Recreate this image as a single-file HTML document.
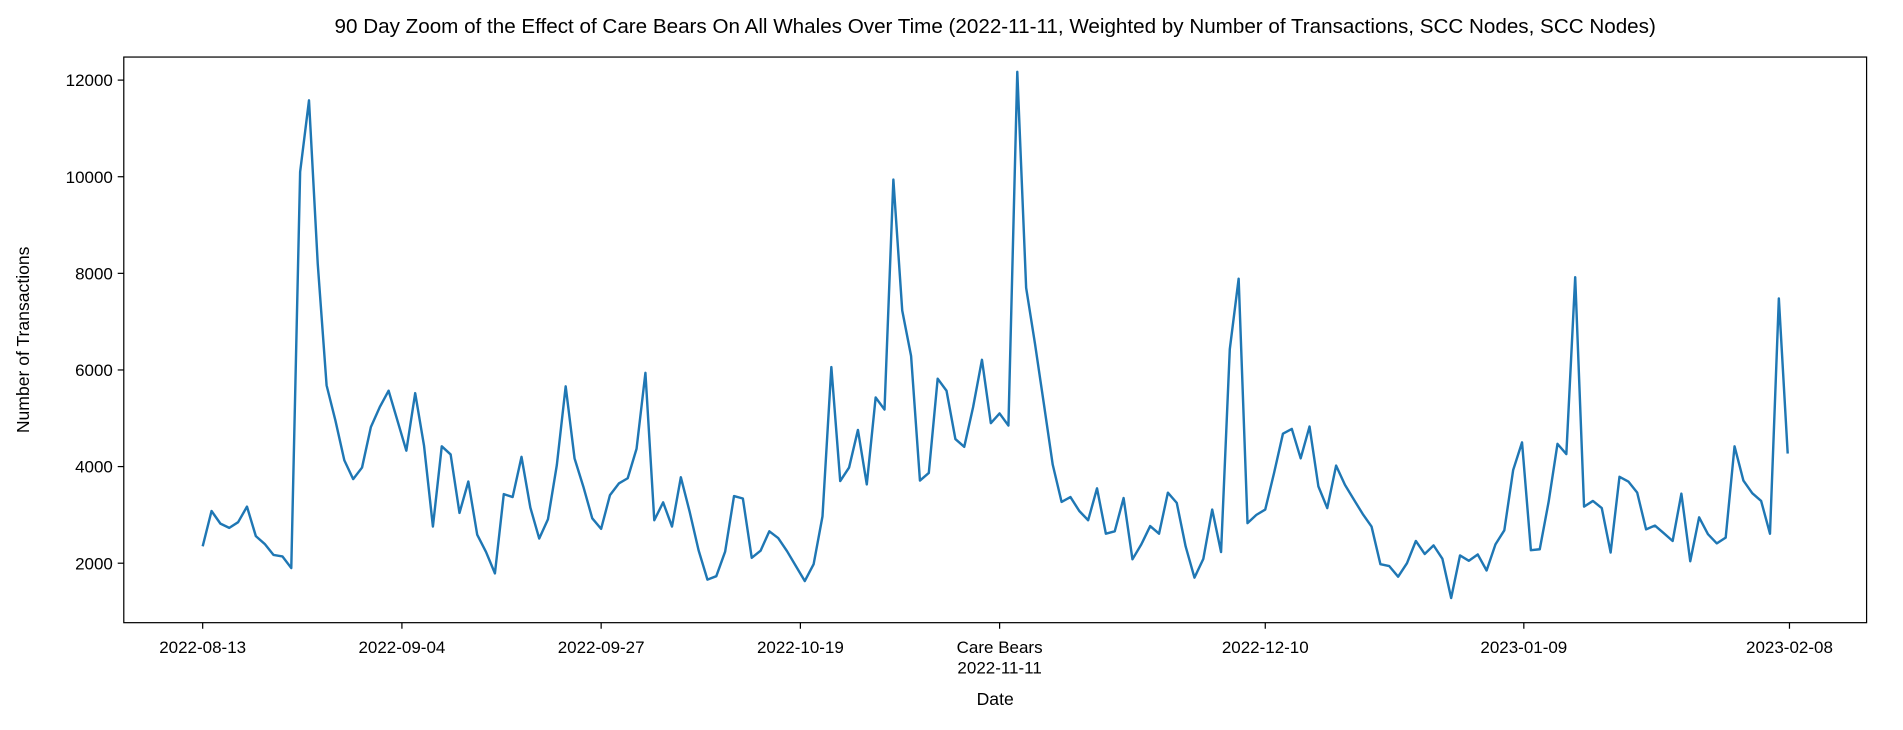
<!DOCTYPE html>
<html><head><meta charset="utf-8"><style>
body{margin:0;background:#fff;overflow:hidden;}
svg text{font-family:"Liberation Sans","DejaVu Sans",sans-serif;fill:#000;}
</style></head><body>
<svg width="1903" height="725" viewBox="0 0 1568 597.3" preserveAspectRatio="none" xmlns="http://www.w3.org/2000/svg" id="chart">
<text x="820" y="27" font-size="17" text-anchor="middle">90 Day Zoom of the Effect of Care Bears On All Whales Over Time (2022-11-11, Weighted by Number of Transactions, SCC Nodes, SCC Nodes)</text>
<text transform="translate(24,280) rotate(-90)" font-size="14.5" text-anchor="middle">Number of Transactions</text>
<text x="820" y="581" font-size="14.5" text-anchor="middle">Date</text>
<g id="axes"></g>
<rect x="102" y="47" width="1436" height="466" fill="none" stroke="#000" stroke-width="1"/>
</svg>
<script>
const values=[2350,3080,2820,2730,2850,3170,2560,2400,2170,2140,1900,10100,11580,8200,5680,4950,4130,3740,3980,4820,5230,5570,4950,4330,5520,4430,2760,4420,4250,3040,3690,2590,2230,1790,3430,3370,4200,3150,2510,2910,4030,5660,4170,3580,2930,2710,3410,3650,3760,4370,5940,2890,3260,2760,3780,3060,2270,1660,1730,2240,3390,3340,2110,2260,2660,2520,2250,1940,1630,1980,2970,6060,3700,3980,4760,3630,5430,5180,9940,7230,6290,3710,3870,5820,5570,4570,4410,5230,6210,4900,5100,4850,12170,7700,6540,5300,4040,3270,3370,3080,2890,3550,2610,2660,3350,2080,2390,2770,2610,3460,3250,2350,1700,2090,3110,2230,6430,7890,2830,3000,3110,3870,4680,4780,4170,4830,3590,3140,4020,3620,3320,3020,2760,1980,1940,1720,2000,2460,2190,2370,2090,1280,2160,2050,2180,1850,2390,2680,3930,4500,2270,2290,3270,4470,4260,7920,3170,3290,3140,2220,3790,3690,3460,2700,2780,2620,2460,3440,2040,2950,2600,2410,2530,4420,3710,3450,3290,2610,7480,4270];
const yTicks=[2000,4000,6000,8000,10000,12000];
const xTickLabels=["2022-08-13","2022-09-04","2022-09-27","2022-10-19","Care Bears|2022-11-11","2022-12-10","2023-01-09","2023-02-08"];
const xTickIdx=[0,22.5,45,67.5,90,120,149.2,179.2];
const ns="http://www.w3.org/2000/svg";
const svg=document.getElementById('axes');
const n=values.length;
const xs=i=>167+i*(1473-167)/179;
const ys=v=>464-(v-2000)*0.0398;
function mk(t,a){const e=document.createElementNS(ns,t);for(const k in a)e.setAttribute(k,a[k]);svg.appendChild(e);return e;}
yTicks.forEach(v=>{
  const l=mk('line',{x1:97,x2:102,y1:ys(v),y2:ys(v),stroke:'#000'});
  
  
  const t=mk('text',{x:93,y:ys(v)+5,'font-size':14,'text-anchor':'end'});
  
  
  t.textContent=v;
});
xTickLabels.forEach((lab,i)=>{
  const x=xs(xTickIdx[i]);
  const l=mk('line',{x1:x,x2:x,y1:513,y2:518,stroke:'#000'});
  
  
  lab.split('|').forEach((p,j)=>{
    const t=mk('text',{x:x,y:538+j*17,'font-size':14,'text-anchor':'middle'});
    
    
    t.textContent=p;
  });
});
const d=values.map((v,i)=>(i?'L':'M')+xs(i).toFixed(1)+','+ys(v).toFixed(1)).join(' ');
const p=mk('path',{d:d,fill:'none',stroke:'#1f77b4','stroke-width':2,'stroke-linejoin':'round'});


</script>
</body></html>
